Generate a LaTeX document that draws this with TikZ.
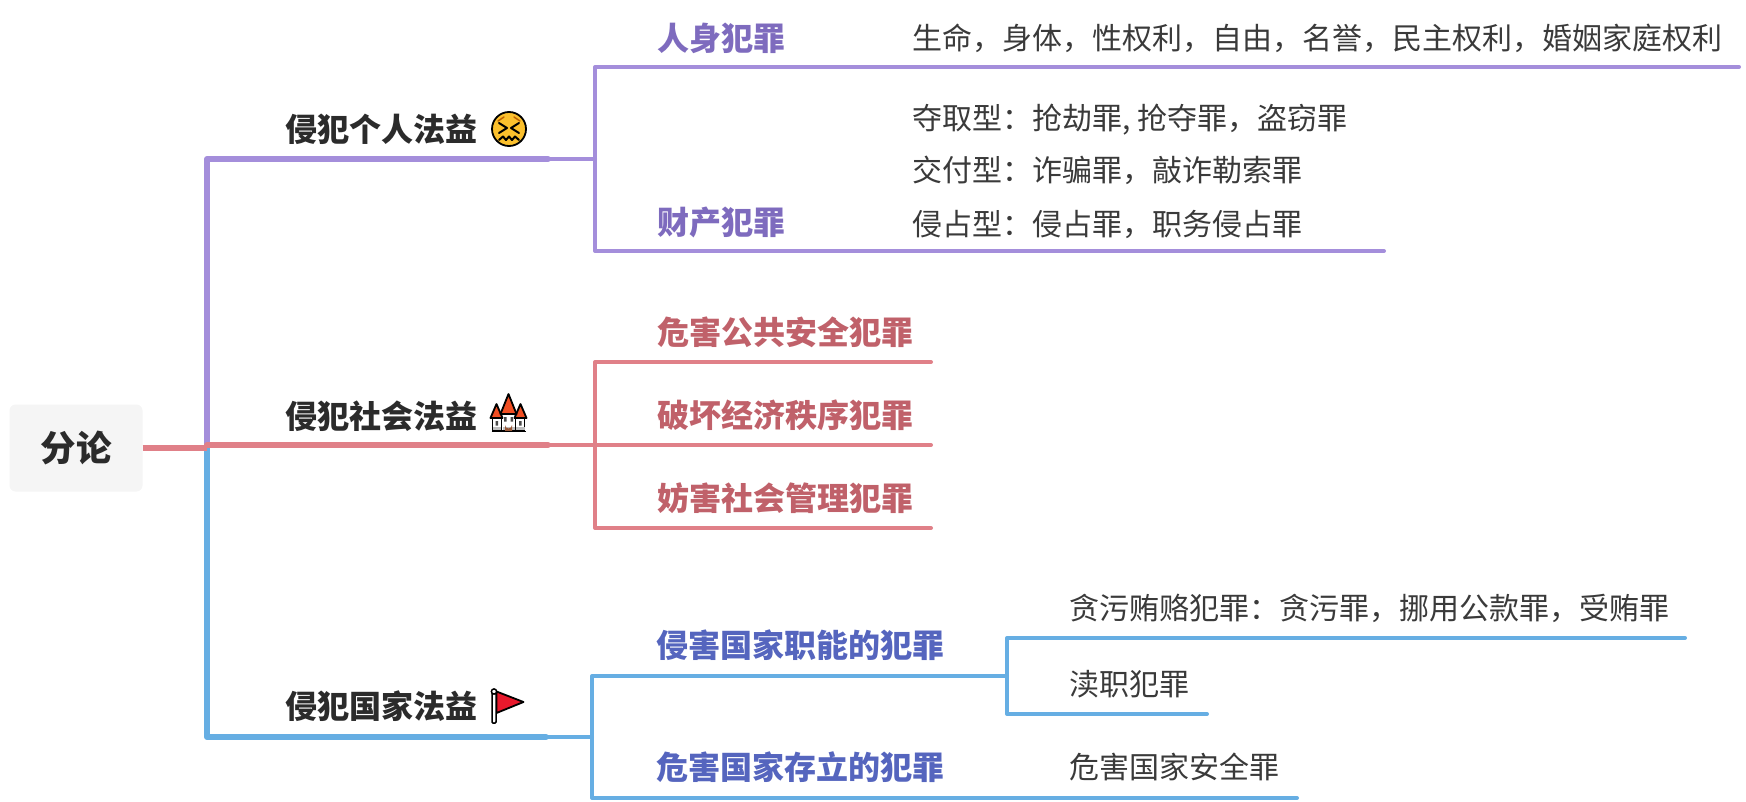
\documentclass[tikz,border=0pt]{standalone}
\usepackage{fontspec}
\setmainfont{Noto Sans CJK SC}
\definecolor{purpleline}{HTML}{A48EDB}
\definecolor{redline}{HTML}{E08088}
\definecolor{blueline}{HTML}{66AEE3}
\definecolor{purpletext}{HTML}{7E6BBE}
\definecolor{redtext}{HTML}{C0616A}
\definecolor{bluetext}{HTML}{5565BE}
\definecolor{darktext}{HTML}{2B2B2B}
\definecolor{leaftext}{HTML}{3A3A3A}
\definecolor{rootfill}{HTML}{F5F5F5}
\definecolor{faceyellow}{HTML}{FBC02D}
\definecolor{roofred}{HTML}{F04E23}
\definecolor{flagred}{HTML}{E8192C}
\definecolor{doorbrown}{HTML}{9A5A3A}
\tikzset{
  thickline/.style={line width=6pt,line cap=round,line join=round},
  thinline/.style={line width=4pt,line cap=round,line join=round},
  rootnode/.style={fill=rootfill,rounded corners=6pt,minimum width=133pt,minimum height=87pt,inner sep=0pt,font=\fontsize{35.5}{36}\selectfont\bfseries,text=darktext},
  topic/.style={anchor=west,inner sep=0pt,font=\fontsize{32}{32}\selectfont\bfseries,text=darktext},
  subp/.style={anchor=west,inner sep=0pt,font=\fontsize{32}{32}\selectfont\bfseries,text=purpletext},
  subr/.style={anchor=west,inner sep=0pt,font=\fontsize{32}{32}\selectfont\bfseries,text=redtext},
  subb/.style={anchor=west,inner sep=0pt,font=\fontsize{32}{32}\selectfont\bfseries,text=bluetext},
  leaf/.style={anchor=west,inner sep=0pt,font=\fontsize{30}{30}\selectfont,text=leaftext},
  emojiline/.style={draw=black,line width=1.8pt,line join=round}
}
\begin{document}
\begin{tikzpicture}[x=1pt,y=-1pt]
\useasboundingbox (0,0) rectangle (1746,802);
% coordinates
\coordinate (hub) at (207,448);
\coordinate (b1) at (548,159); \coordinate (j1) at (595,159);
\coordinate (b2) at (548,445); \coordinate (j2) at (595,445);
\coordinate (b3) at (546,737); \coordinate (j3) at (592,737);
\coordinate (e11) at (1739,67); \coordinate (e12) at (1384,251);
\coordinate (e21) at (931,362); \coordinate (e22) at (931,445); \coordinate (e23) at (931,528);
\coordinate (j31) at (1007,676); \coordinate (e32) at (1297,798);
\coordinate (e311) at (1685,638); \coordinate (e312) at (1207,714);
% text nodes
\node[rootnode] (root) at (76,448) {分论};
\node[topic] (t1) at (285.5,129) {侵犯个人法益};
\node[topic] (t2) at (285.5,416) {侵犯社会法益};
\node[topic] (t3) at (285.5,706) {侵犯国家法益};
\node[subp] (s11) at (657.5,38) {人身犯罪};
\node[subp] (s12) at (657.5,222) {财产犯罪};
\node[subr] (s21) at (657.5,332) {危害公共安全犯罪};
\node[subr] (s22) at (657.5,415) {破坏经济秩序犯罪};
\node[subr] (s23) at (657.5,498) {妨害社会管理犯罪};
\node[subb] (s31) at (656.5,645) {侵害国家职能的犯罪};
\node[subb] (s32) at (656.5,767) {危害国家存立的犯罪};
\node[leaf] (l11) at (912,38) {生命，身体，性权利，自由，名誉，民主权利，婚姻家庭权利};
\node[leaf] (l12) at (912,120) {夺取型：抢劫罪, 抢夺罪，盗窃罪};
\node[leaf] (l13) at (912,170) {交付型：诈骗罪，敲诈勒索罪};
\node[leaf] (l14) at (912,224) {侵占型：侵占罪，职务侵占罪};
\node[leaf] (l31) at (1069,608) {贪污贿赂犯罪：贪污罪，挪用公款罪，受贿罪};
\node[leaf] (l32) at (1069,684) {渎职犯罪};
\node[leaf] (l33) at (1069,767) {危害国家安全罪};
% connectors
\draw[thinline,purpleline] (e11) -| (j1) |- (e12);
\draw[thinline,purpleline] (b1) -- (j1);
\draw[thinline,redline] (e21) -| (j2) |- (e23);
\draw[thinline,redline] (b2) -- (e22);
\draw[thinline,blueline] (j31) -| (j3) |- (e32);
\draw[thinline,blueline] (b3) -- (j3);
\draw[thinline,blueline] (e311) -| (j31) |- (e312);
\draw[thickline,purpleline] (hub) |- (b1);
\draw[thickline,blueline] (hub) |- (b3);
\draw[thickline,redline,line cap=butt] (root.east |- hub) -- (hub);
\draw[thickline,redline] (hub |- b2) -- (b2);
% face emoji
\begin{scope}[shift={(509,129)}]
  \draw[emojiline,fill=faceyellow] (0,0) ellipse [x radius=17,y radius=17];
  \draw[draw=orange!75!black,line width=1.5pt,line cap=round] (-11,-8) -- (-5,-12) (11,-8) -- (5,-12);
  \draw[black,line width=2pt,line cap=round,line join=round] (-10,-6) -- (-2,-1) -- (-10,4);
  \draw[black,line width=2pt,line cap=round,line join=round] (10,-6) -- (2,-1) -- (10,4);
  \draw[black,line width=2pt,line cap=round,line join=round] (-10,11) -- (-6,7.5) -- (-3,11) -- (0,7.5) -- (3,11) -- (6,7.5) -- (10,11);
\end{scope}
% castle emoji
\begin{scope}[shift={(508.5,413)}]
  \draw[emojiline,fill=white] (-16,4) rectangle (16,18);
  \fill[black!25] (-16,14) rectangle (16,17);
  \draw[emojiline,fill=white] (-7,0) rectangle (7,18);
  \fill[black!25] (-6,14) rectangle (6,17);
  \draw[emojiline,fill=roofred] (-18,5) -- (-12,-9) -- (-6,5) -- cycle;
  \draw[emojiline,fill=roofred] (18,5) -- (12,-9) -- (6,5) -- cycle;
  \draw[emojiline,fill=roofred] (-8,1) -- (0,-19) -- (8,1) -- cycle;
  \fill[doorbrown] (-3.5,18) -- (-3.5,12) arc (180:0:3.5) -- (3.5,18) -- cycle;
  \fill[black!70] (-13,8) rectangle (-10.5,12.5) (10.5,8) rectangle (13,12.5);
  \fill[black!70] (-4.5,4) rectangle (-2,8.5) (2,4) rectangle (4.5,8.5);
  \draw[black,line width=1.8pt] (-17,18.5) -- (17,18.5);
\end{scope}
% flag emoji
\begin{scope}[shift={(494,707)}]
  \draw[emojiline,fill=flagred] (2.5,-15.5) -- (29.5,-5) -- (2.5,6) -- cycle;
  \draw[draw=black,line width=1.5pt,fill=white,rounded corners=1pt] (-2,-14) rectangle (2,16);
  \draw[draw=black,line width=1.5pt,fill=white] (0,-15.5) circle (2.6);
\end{scope}
\end{tikzpicture}
\end{document}
